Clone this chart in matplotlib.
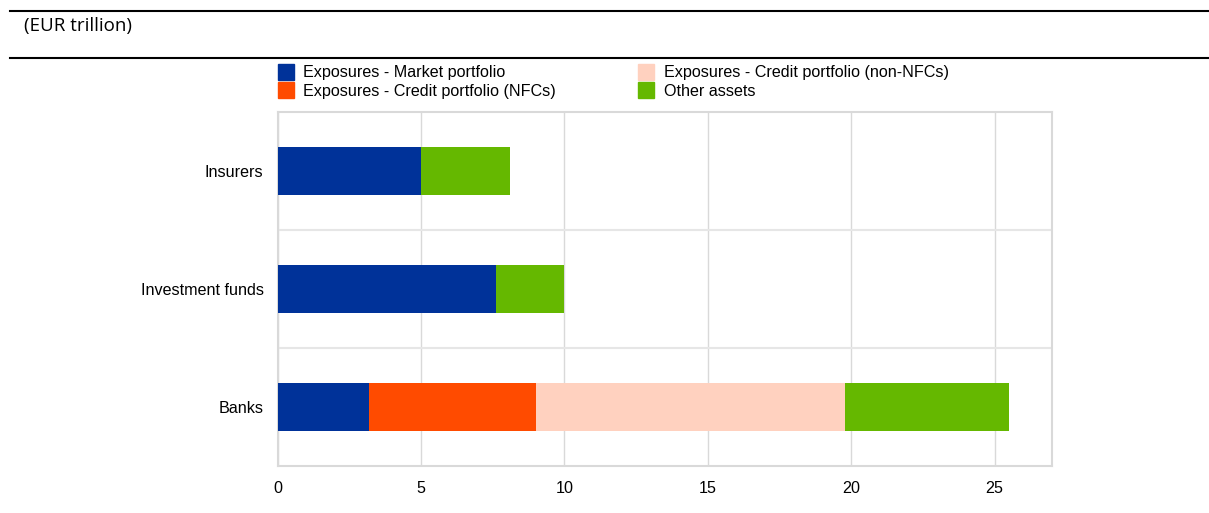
import matplotlib.pyplot as plt
from matplotlib.lines import Line2D
import numpy as np

plt.rcParams['font.family'] = ['Liberation Sans', 'DejaVu Sans']

# Total assets by sector, EUR trillion
sectors = ['Banks', 'Investment funds', 'Insurers']
market = [3.2, 7.6, 5.0]
credit_nfc = [5.8, 0.0, 0.0]
credit_non_nfc = [10.8, 0.0, 0.0]
other = [5.7, 2.4, 3.1]

series = [
    ('Exposures - Market portfolio', market, '#003299'),
    ('Exposures - Credit portfolio (NFCs)', credit_nfc, '#ff4b00'),
    ('Exposures - Credit portfolio (non-NFCs)', credit_non_nfc, '#ffd1bf'),
    ('Other assets', other, '#65b800'),
]

fig = plt.figure(figsize=(12.09, 5.13), dpi=100)
ax = fig.add_axes([277.5 / 1209, 1 - 466 / 513, (1052 - 277.5) / 1209, (466 - 112) / 513])

y = np.arange(len(sectors))
left = np.zeros(len(sectors))
for name, vals, color in series:
    vals = np.array(vals)
    ax.barh(y, vals, left=left, height=0.4, color=color, label=name, zorder=3)
    left += vals

ax.set_xlim(0, 27)
ax.set_ylim(-0.5, 2.5)
ax.set_xticks([0, 5, 10, 15, 20, 25])
ax.set_yticks(y)
ax.set_yticklabels(sectors)
ax.set_yticks([0.5, 1.5], minor=True)
ax.tick_params(axis='both', which='both', length=0, labelsize=11.6, colors='black')
ax.tick_params(axis='y', pad=10)
ax.tick_params(axis='x', pad=11)
ax.grid(axis='x', which='major', color='#d9d9d9', lw=1, zorder=0)
ax.grid(axis='y', which='minor', color='#e6e6e6', lw=1.5, zorder=0)
for s in ax.spines.values():
    s.set_color('#d9d9d9')
    s.set_linewidth(1.5)

# legend, two columns above the plot
handles = [Line2D([], [], marker='s', ls='none', markersize=11, color=c) for _, _, c in series]
labels = [n for n, _, _ in series]
fig.legend(handles, labels, ncol=2, loc='upper left', bbox_to_anchor=(271 / 1209, 1 - 59 / 513),
           frameon=False, fontsize=11.6, handletextpad=0.6, columnspacing=5.1,
           labelspacing=0.2, borderaxespad=0, handlelength=1.0)

# header rules and unit label
fig.add_artist(Line2D([10 / 1209, 1], [1 - 11 / 513] * 2, color='black', lw=1.5))
fig.add_artist(Line2D([10 / 1209, 1], [1 - 58 / 513] * 2, color='black', lw=1.5))
fig.text(24 / 1209, 1 - 26 / 513, '(EUR trillion)', fontsize=13.5, va='center',
         family=['Open Sans', 'DejaVu Sans'])

fig.savefig('out.png', dpi=100)
